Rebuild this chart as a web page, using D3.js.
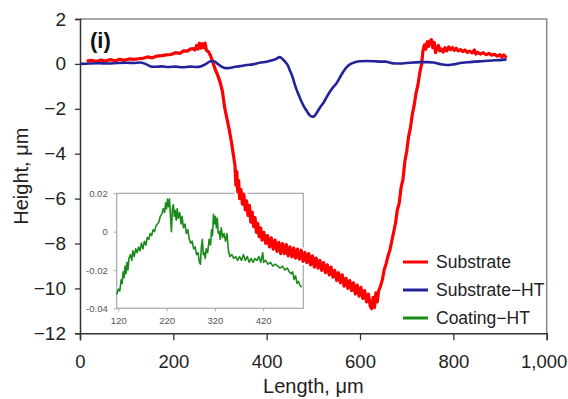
<!DOCTYPE html>
<html>
<head>
<meta charset="utf-8">
<script src="https://cdn.jsdelivr.net/npm/d3@7"></script>
<style>
  html, body { margin: 0; padding: 0; background: #fff; }
  svg { display: block; font-family: "Liberation Sans", Arial, sans-serif; }
</style>
</head>
<body>
<svg id="chart" width="568" height="399"></svg>
<script>
// Profilometer traces across the wear track
const substrateLength = [14,25,35,45,55,65,75,85,95,105,115,125,135,145,155,165,175,185,195,205,214,222,230,236,242,246,250,253,256,259,262,265,268,271,275,280,285,290,295,300,305,310,315,320,325,329,332,334,336,338,340,342,345,348,351,354,357,360,363,366,369,372,375,378,381,384,387,390,394,398,402,406,410,414,418,422,426,430,434,438,442,446,450,454,458,462,466,470,474,478,482,486,490,494,498,502,506,510,514,518,522,526,530,534,538,542,546,550,554,558,562,566,570,574,578,582,586,590,594,598,602,606,610,614,618,622,625,628,631,634,637,640,644,648,652,656,660,664,668,672,676,680,684,688,692,696,700,704,708,712,716,720,724,728,732,735,738,741,744,747,750,753,756,759,762,765,768,771,774,778,782,786,790,794,798,802,806,810,815,820,825,830,835,840,845,848,852,858,864,870,876,882,888,894,900,904,908,912,914];
const substrateHeight = [0.13,0.16,0.11,0.17,0.13,0.19,0.14,0.2,0.16,0.22,0.2,0.23,0.25,0.31,0.27,0.35,0.37,0.4,0.42,0.5,0.47,0.58,0.57,0.66,0.68,0.62,0.82,0.66,0.92,0.7,0.9,0.72,0.93,0.6,0.55,0.35,0.05,-0.25,-0.5,-0.8,-1.2,-1.95,-2.45,-2.95,-3.55,-4.1,-4.5,-5.4,-4.8,-5.7,-5.2,-6.0,-5.6,-6.25,-5.8,-6.5,-6.1,-6.75,-6.3,-7.05,-6.6,-7.25,-6.85,-7.5,-7.1,-7.7,-7.3,-7.85,-7.5,-8.0,-7.65,-8.15,-7.75,-8.25,-7.85,-8.35,-7.95,-8.45,-8.0,-8.45,-8.05,-8.55,-8.15,-8.6,-8.2,-8.65,-8.25,-8.7,-8.3,-8.8,-8.4,-8.85,-8.45,-8.95,-8.55,-9.05,-8.65,-9.1,-8.75,-9.2,-8.85,-9.3,-8.95,-9.4,-9.05,-9.5,-9.2,-9.65,-9.3,-9.75,-9.4,-9.9,-9.55,-10.0,-9.65,-10.1,-9.75,-10.25,-9.85,-10.35,-9.95,-10.45,-10.1,-10.6,-10.25,-10.8,-10.9,-10.4,-10.85,-10.2,-10.6,-10.1,-9.9,-9.6,-9.15,-8.9,-8.55,-8.3,-7.9,-7.5,-7.1,-6.5,-6.2,-5.5,-5.15,-4.35,-3.9,-3.25,-2.85,-2.25,-1.85,-1.3,-0.95,-0.4,0.0,0.6,0.85,0.65,0.98,0.78,1.02,1.08,0.72,0.96,0.5,0.74,0.82,0.58,0.67,0.53,0.72,0.58,0.76,0.63,0.73,0.6,0.7,0.58,0.64,0.55,0.62,0.51,0.57,0.49,0.62,0.44,0.52,0.44,0.5,0.41,0.47,0.39,0.43,0.35,0.41,0.3,0.4,0.33,0.36];

const substrateHtLength = [0,20,40,60,80,100,115,128,140,150,160,175,190,205,220,235,250,260,270,280,287,295,303,312,320,330,343,357,370,385,400,410,420,428,434,440,445,450,455,460,465,470,475,480,486,492,498,502,508,514,521,528,535,542,550,557,564,571,580,590,600,615,630,645,655,665,675,686,700,715,730,745,757,770,786,800,815,830,845,860,875,890,905,914];
const substrateHtHeight = [0.0,0.02,0.03,0.02,0.04,0.05,0.04,0.06,0.0,-0.1,-0.13,-0.11,-0.14,-0.12,-0.15,-0.12,-0.14,-0.1,0.0,0.12,0.12,0.0,-0.12,-0.19,-0.18,-0.14,-0.1,-0.05,-0.02,0.05,0.1,0.15,0.22,0.3,0.22,0.08,-0.05,-0.3,-0.55,-0.9,-1.2,-1.45,-1.7,-1.9,-2.1,-2.28,-2.35,-2.33,-2.15,-1.95,-1.75,-1.5,-1.25,-1.05,-0.85,-0.6,-0.35,-0.15,0.0,0.08,0.12,0.13,0.12,0.1,0.1,0.05,0.02,0.02,0.04,0.06,0.08,0.08,0.06,0.0,-0.05,-0.02,0.04,0.07,0.1,0.12,0.14,0.16,0.18,0.2];

const coatingHtLength = [117,120,123,126,128,130,132,134,136,138,140,142,145,148,150,153,156,159,162,165,168,171,174,177,180,183,186,189,192,195,198,201,204,207,210,213,216,218,220,222,224,226,228,230,232,234,236,238,240,242,244,247,250,252,255,258,261,264,267,270,273,276,279,282,285,288,290,292,294,296,298,300,302,305,308,311,313,315,317,319,321,323,325,327,329,331,333,336,339,342,345,348,351,355,359,363,367,371,375,379,383,387,391,395,399,403,407,411,415,419,421,425,430,435,440,445,450,455,460,465,470,474,478,481,484,487,490,493,496,500];
const coatingHtHeight = [-0.0327,-0.03,-0.031,-0.025,-0.027,-0.021,-0.024,-0.018,-0.022,-0.016,-0.02,-0.014,-0.012,-0.015,-0.01,-0.013,-0.009,-0.011,-0.008,-0.01,-0.006,-0.009,-0.005,-0.007,-0.003,-0.004,-0.001,-0.002,0.001,0.0,0.003,0.004,0.005,0.008,0.009,0.012,0.01,0.015,0.012,0.017,0.013,0.017,0.008,0.0,0.012,0.014,0.008,0.011,0.006,0.012,0.007,0.01,0.004,0.008,0.002,0.004,-0.001,0.001,-0.004,-0.006,-0.005,-0.009,-0.008,-0.012,-0.011,-0.016,-0.017,-0.008,-0.004,-0.012,-0.011,-0.014,-0.009,-0.011,-0.004,-0.007,0.001,-0.002,0.009,0.004,0.008,0.002,0.007,-0.001,0.0,-0.004,0.002,-0.003,-0.001,-0.005,-0.001,-0.01,-0.013,-0.012,-0.014,-0.013,-0.015,-0.013,-0.015,-0.012,-0.015,-0.013,-0.016,-0.014,-0.016,-0.014,-0.015,-0.013,-0.016,-0.011,-0.016,-0.015,-0.017,-0.016,-0.018,-0.017,-0.018,-0.019,-0.018,-0.02,-0.019,-0.021,-0.022,-0.021,-0.025,-0.023,-0.027,-0.026,-0.028,-0.029];

const xTicks = [0, 200, 400, 600, 800, 1000];
const yTicks = [-12, -10, -8, -6, -4, -2, 0, 2];
const insetXTicks = [120, 220, 320, 420];
const insetYTicks = [-0.04, -0.02, 0, 0.02];
const seriesNames = ["Substrate", "Substrate\u2212HT", "Coating\u2212HT"];
const seriesColors = ["#ff0000", "#22229a", "#1a8a1a"];

const svg = d3.select("#chart");
const plot = { left: 80, right: 546.7, top: 19, bottom: 333.3 };
const inset = { left: 116.7, right: 303.3, top: 193.3, bottom: 308.3 };

const x = d3.scaleLinear().domain([0, 1000]).range([plot.left, plot.right]);
const y = d3.scaleLinear().domain([-12, 2]).range([plot.bottom, plot.top]);
const ix = d3.scaleLinear().domain([116.7, 503]).range([inset.left, inset.right]);
const iy = d3.scaleLinear().domain([-0.04, 0.02]).range([inset.bottom, inset.top]);

// Main frame: grey top and right edges
svg.append("path")
  .attr("d", `M${plot.left},${plot.top}H${plot.right}V${plot.bottom}`)
  .attr("fill", "none").attr("stroke", "#8a8a8a").attr("stroke-width", 1.5);

// Inset frame
svg.append("rect")
  .attr("x", inset.left).attr("y", inset.top)
  .attr("width", inset.right - inset.left).attr("height", inset.bottom - inset.top)
  .attr("fill", "none").attr("stroke", "#a8a8a8").attr("stroke-width", 1.2);

// Inset axes
const ixAxis = svg.append("g")
  .attr("transform", `translate(0,${inset.bottom})`)
  .call(d3.axisBottom(ix).tickValues(insetXTicks).tickSize(3).tickPadding(6).tickFormat(d3.format("d")));
const iyAxis = svg.append("g")
  .attr("transform", `translate(${inset.left},0)`)
  .call(d3.axisLeft(iy).tickValues(insetYTicks).tickSize(3).tickPadding(6)
    .tickFormat(d => d === 0 ? "0" : d3.format(".2f")(d).replace("\u2212", "-")));
[ixAxis, iyAxis].forEach(g => {
  g.select(".domain").remove();
  g.selectAll("line").attr("stroke", "#a8a8a8");
  g.selectAll("text").attr("fill", "#555").style("font-size", "9.5px");
});

const line = (sx, sy) => d3.line().x(d => sx(d[0])).y(d => sy(d[1]));

// Coating-HT trace in the inset
svg.append("path")
  .datum(coatingHtLength.map((v, i) => [v, coatingHtHeight[i]]))
  .attr("d", line(ix, iy))
  .attr("fill", "none").attr("stroke", seriesColors[2]).attr("stroke-width", 1.6)
  .attr("stroke-linejoin", "round");

// Substrate trace, with a white edge so it sits cleanly over the inset frame
const subData = substrateLength.map((v, i) => [v, substrateHeight[i]]);
svg.append("path").datum(subData).attr("d", line(x, y))
  .attr("fill", "none").attr("stroke", "#fff").attr("stroke-width", 7)
  .attr("stroke-linejoin", "round");
svg.append("path").datum(subData).attr("d", line(x, y))
  .attr("fill", "none").attr("stroke", seriesColors[0]).attr("stroke-width", 3.2)
  .attr("stroke-linejoin", "round");

// Substrate-HT trace
svg.append("path")
  .datum(substrateHtLength.map((v, i) => [v, substrateHtHeight[i]]))
  .attr("d", d3.line().curve(d3.curveMonotoneX).x(d => x(d[0])).y(d => y(d[1])))
  .attr("fill", "none").attr("stroke", seriesColors[1]).attr("stroke-width", 2.6);

// Main axes
const xAxis = svg.append("g")
  .attr("transform", `translate(0,${plot.bottom})`)
  .call(d3.axisBottom(x).tickValues(xTicks).tickSize(7).tickPadding(15).tickFormat(d3.format(",")));
const yAxis = svg.append("g")
  .attr("transform", `translate(${plot.left},0)`)
  .call(d3.axisLeft(y).tickValues(yTicks).tickSize(5).tickPadding(9).tickFormat(d3.format("")));
[xAxis, yAxis].forEach(g => {
  g.select(".domain").attr("stroke", "#333").attr("stroke-width", 1.5);
  g.selectAll("line").attr("stroke", "#333").attr("stroke-width", 1.3);
  g.selectAll("text").attr("fill", "#222").style("font-size", "19px");
});
xAxis.selectAll("text").style("font-size", "18.5px");
// keep the last label inside the page edge
xAxis.selectAll(".tick").filter(d => d === 1000).select("text").attr("dx", -3);

// Axis titles
svg.append("text")
  .attr("x", (plot.left + plot.right) / 2).attr("y", 393)
  .attr("text-anchor", "middle").attr("fill", "#222").style("font-size", "20px")
  .text("Length, \u03bcm");
svg.append("text")
  .attr("transform", `translate(28,${(plot.top + plot.bottom) / 2}) rotate(-90)`)
  .attr("text-anchor", "middle").attr("fill", "#222").style("font-size", "20px")
  .text("Height, \u03bcm");

// Panel label
svg.append("text")
  .attr("x", 90).attr("y", 48)
  .attr("fill", "#111").style("font-size", "22px").style("font-weight", "bold")
  .text("(i)");

// Legend
const legend = svg.append("g").selectAll("g").data(seriesNames).join("g")
  .attr("transform", (d, i) => `translate(403,${262 + i * 28})`);
legend.append("line")
  .attr("x1", 0).attr("x2", 25).attr("y1", 0).attr("y2", 0)
  .attr("stroke", (d, i) => seriesColors[i]).attr("stroke-width", 3);
legend.append("text")
  .attr("x", 33).attr("y", 0).attr("dy", "0.35em")
  .attr("fill", "#222").style("font-size", "17.5px")
  .text(d => d);
</script>
</body>
</html>
